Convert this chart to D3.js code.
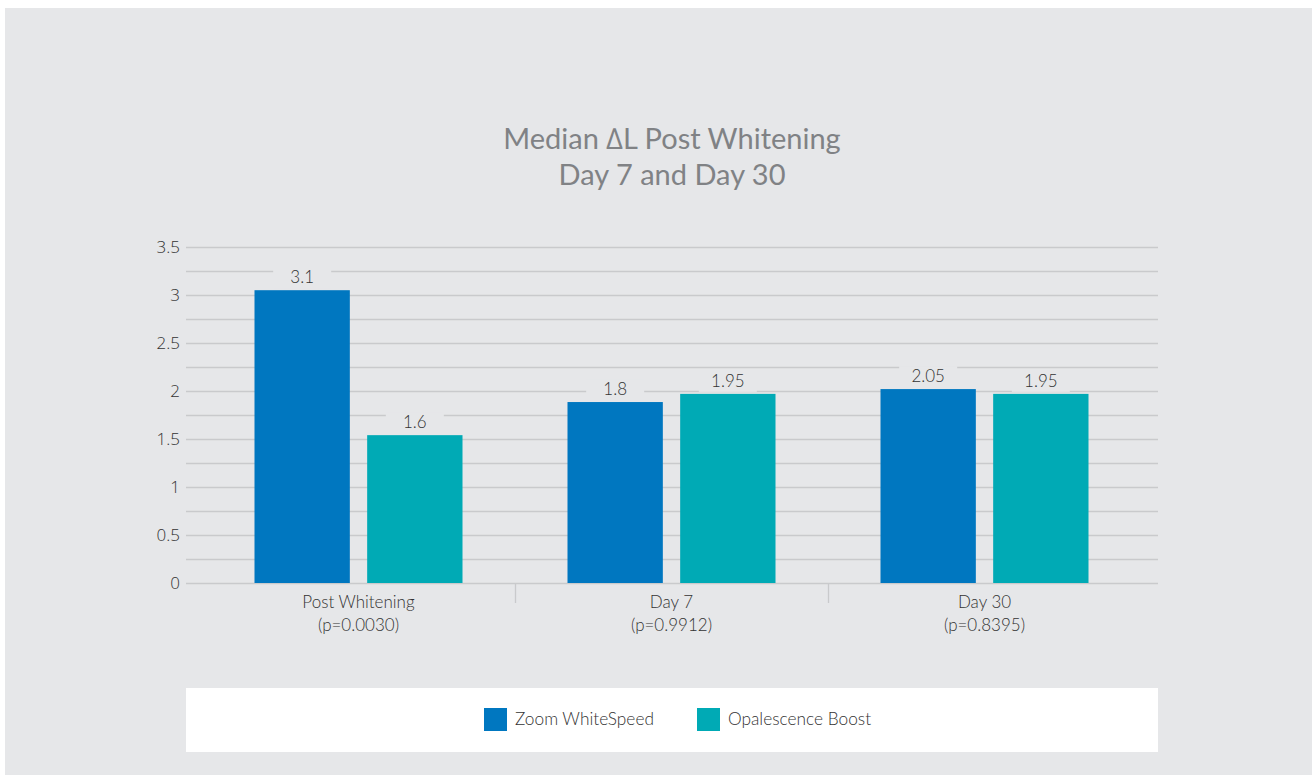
<!DOCTYPE html>
<html>
<head>
<meta charset="utf-8">
<script src="https://cdn.jsdelivr.net/npm/d3@7"></script>
<style>
html,body{margin:0;padding:0;background:#ffffff;}
svg{display:block;}
</style>
</head>
<body>
<svg id="chart" width="1312" height="775"></svg>
<script>
const titleLines = ["Median \u2206L Post Whitening", "Day 7 and Day 30"];
const categories = ["Post Whitening", "Day 7", "Day 30"];
const pValues = ["(p=0.0030)", "(p=0.9912)", "(p=0.8395)"];
const seriesNames = ["Zoom WhiteSpeed", "Opalescence Boost"];
const zoomValues = [3.05, 1.885, 2.02];
const opalValues = [1.54, 1.97, 1.97];
const zoomLabels = ["3.1", "1.8", "2.05"];
const opalLabels = ["1.6", "1.95", "1.95"];
const yTicks = [0, 0.5, 1, 1.5, 2, 2.5, 3, 3.5];
const yMinorTicks = [0.25, 0.75, 1.25, 1.75, 2.25, 2.75, 3.25];
const colors = ["#0077c0", "#00aab5"];
const bg = "#e6e7e9";

const svg = d3.select("#chart");
svg.append("rect").attr("x", 5).attr("y", 8).attr("width", 1312 - 5).attr("height", 775 - 8).attr("fill", bg);

const plotLeft = 186, plotRight = 1158;
const y = d3.scaleLinear().domain([0, 3.5]).range([583, 247]);
const x = d3.scaleBand().domain(categories).range([202, 1141]).paddingInner(0).paddingOuter(0);
const x1 = d3.scaleBand().domain(seriesNames).range([52.5, 260.5]).paddingInner(16 / 104).paddingOuter(0);

// title
const titleFont = "Lato, 'Open Sans', sans-serif";
svg.append("g").selectAll("text").data(titleLines).join("text")
  .attr("x", 672).attr("y", (d, i) => 149 + i * 36)
  .attr("text-anchor", "middle")
  .attr("font-family", titleFont).attr("font-size", 29).attr("fill", "#808285")
  .text(d => d);

// gridlines
const grid = svg.append("g");
grid.selectAll("line.minor").data(yMinorTicks.concat(yTicks)).join("line")
  .attr("x1", plotLeft).attr("x2", plotRight)
  .attr("y1", d => Math.round(y(d)) + 0.5).attr("y2", d => Math.round(y(d)) + 0.5)
  .attr("stroke", "#c9cacc").attr("stroke-width", 1.3);

// y axis labels
const yAxis = d3.axisLeft(y).tickValues(yTicks).tickSize(0).tickPadding(0).tickFormat(d3.format("~g"));
const yg = svg.append("g").attr("transform", "translate(180,0)").call(yAxis);
yg.select(".domain").remove();
yg.selectAll("text").attr("font-family", "'Open Sans', 'Noto Sans', sans-serif").attr("font-weight", 300).attr("font-size", 17).attr("fill", "#333333");

// category separators
const seps = categories.slice(1).map(c => x(c));
svg.append("g").selectAll("line").data(seps).join("line")
  .attr("x1", d => Math.round(d) + 0.5).attr("x2", d => Math.round(d) + 0.5)
  .attr("y1", 583).attr("y2", 603)
  .attr("stroke", "#c9cacc").attr("stroke-width", 1.3);

// bars
const rows = categories.map((c, i) => ({
  cat: c,
  items: [
    {s: seriesNames[0], v: zoomValues[i], label: zoomLabels[i], color: colors[0]},
    {s: seriesNames[1], v: opalValues[i], label: opalLabels[i], color: colors[1]}
  ]
}));
const groups = svg.append("g").selectAll("g").data(rows).join("g")
  .attr("transform", d => `translate(${x(d.cat)},0)`);
groups.selectAll("rect").data(d => d.items).join("rect")
  .attr("x", d => x1(d.s)).attr("width", x1.bandwidth())
  .attr("y", d => y(d.v)).attr("height", d => y(0) - y(d.v))
  .attr("fill", d => d.color);

// value labels with background
const labelFont = "Lato, 'Open Sans', sans-serif";
const lab = groups.selectAll("g.lab").data(d => d.items).join("g").attr("class", "lab")
  .attr("transform", d => `translate(${x1(d.s) + x1.bandwidth() / 2},${y(d.v) - 7})`);
lab.append("rect").attr("x", -29).attr("y", -16).attr("width", 58).attr("height", 21).attr("fill", bg);
lab.append("text").attr("text-anchor", "middle")
  .attr("font-family", labelFont).attr("font-weight", 300).attr("font-size", 17).attr("fill", "#333333")
  .text(d => d.label);

// category labels
const catG = svg.append("g").selectAll("g").data(categories).join("g")
  .attr("transform", d => `translate(${x(d) + x.bandwidth() / 2},0)`);
catG.append("text").attr("y", 608).attr("text-anchor", "middle")
  .attr("font-family", labelFont).attr("font-weight", 300).attr("font-size", 17).attr("fill", "#333333")
  .text(d => d);
catG.append("text").attr("y", 631).attr("text-anchor", "middle")
  .attr("font-family", labelFont).attr("font-weight", 300).attr("font-size", 17).attr("fill", "#333333")
  .text((d, i) => pValues[i]);

// legend
svg.append("rect").attr("x", 186).attr("y", 688).attr("width", 972).attr("height", 64).attr("fill", "#ffffff");
const legendX = [484, 697];
const lg = svg.append("g").selectAll("g").data(seriesNames).join("g")
  .attr("transform", (d, i) => `translate(${legendX[i]},708)`);
lg.append("rect").attr("width", 23).attr("height", 23).attr("fill", (d, i) => colors[i]);
lg.append("text").attr("x", 31).attr("y", 17)
  .attr("font-family", labelFont).attr("font-weight", 300).attr("font-size", 17.3).attr("fill", "#333333")
  .text(d => d);
</script>
</body>
</html>
